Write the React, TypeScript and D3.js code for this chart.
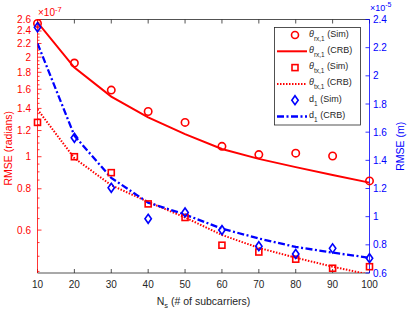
import React from "react";
import * as d3 from "d3";

const ns = [10, 20, 30, 40, 50, 60, 70, 80, 90, 100];
const thetaRxSim = [2.53, 1.92, 1.59, 1.37, 1.27, 1.075, 1.015, 1.025, 1.005, 0.845];
const thetaRxCrb = [2.55, 1.86, 1.52, 1.315, 1.17, 1.055, 0.985, 0.93, 0.88, 0.835];
const thetaTxSim = [1.27, 1.0, 0.895, 0.72, 0.655, 0.54, 0.515, 0.49, 0.46, 0.465];
const thetaTxCrb = [1.39, 0.99, 0.82, 0.73, 0.655, 0.58, 0.53, 0.495, 0.465, 0.44];
const dSim = [2.345, 1.56, 1.205, 0.985, 1.03, 0.905, 0.79, 0.735, 0.775, 0.705];
const dCrb = [2.23, 1.575, 1.275, 1.1, 1.015, 0.915, 0.845, 0.785, 0.745, 0.708];

const xTicks = [10, 20, 30, 40, 50, 60, 70, 80, 90, 100];
const leftTicks = [0.6, 0.8, 1, 1.2, 1.4, 1.6, 1.8, 2, 2.2, 2.4, 2.6];
const rightTicks = [0.6, 0.8, 1, 1.2, 1.4, 1.6, 1.8, 2, 2.2, 2.4];

const W = 407, H = 311;
const L = 37.5, R = 369.5, T = 19.5, B = 273;
const FONT = "'Liberation Sans', Arial, Helvetica, sans-serif";
const RED = "#ff0000";
const BLUE = "#0000ff";
const AX = "#262626";

export default function App() {
  const x = d3.scaleLinear().domain([10, 100]).range([L, R]);
  const yL = d3.scaleLog().domain([0.445, 2.6]).range([B, T]);
  const yR = d3.scaleLinear().domain([0.6, 2.4]).range([B, T]);

  const lineL = d3.line<number>().x((_, i) => x(ns[i])).y((v) => yL(v));
  const lineR = d3.line<number>().x((_, i) => x(ns[i])).y((v) => yR(v));

  const minorL: number[] = [];
  for (let v = 0.45; v <= 2.6001; v += 0.05) {
    const r = Math.round(v * 100) / 100;
    if (!leftTicks.some((t) => Math.abs(t - r) < 1e-6)) minorL.push(r);
  }

  const lw = 2;
  const diamond = (cx: number, cy: number) =>
    `M${cx},${cy - 4.5}L${cx + 3.2},${cy}L${cx},${cy + 4.5}L${cx - 3.2},${cy}Z`;

  const legX = 274.5, legY = 27.5, legW = 86, legH = 97.5;
  const rowY = (i: number) => 35 + i * 16.3;
  const sx0 = 277, sx1 = 307, mx = 295, tx = 309;

  return (
    <svg width={W} height={H} style={{ display: "block", position: "absolute", left: 0, top: 0 }} fontFamily={FONT}>
      <rect x={0} y={0} width={W} height={H} fill="#fff" />
      <defs>
        <clipPath id="plot">
          <rect x={L} y={T - 6} width={R - L} height={B - T + 6} />
        </clipPath>
      </defs>

      {/* top and bottom axes */}
      <line x1={L} x2={R} y1={T} y2={T} stroke={AX} strokeWidth={0.8} />
      <line x1={L} x2={R} y1={B} y2={B} stroke={AX} strokeWidth={0.8} />
      {xTicks.map((t) => (
        <g key={"xt" + t}>
          <line x1={x(t)} x2={x(t)} y1={B} y2={B - 4} stroke={AX} strokeWidth={0.8} />
          <line x1={x(t)} x2={x(t)} y1={T} y2={T + 4} stroke={AX} strokeWidth={0.8} />
          <text x={x(t)} y={288} textAnchor="middle" fontSize={10} fill={AX}>{t}</text>
        </g>
      ))}

      {/* left axis */}
      <line x1={L} x2={L} y1={T} y2={B} stroke={RED} strokeWidth={0.8} />
      {leftTicks.map((t) => (
        <g key={"yl" + t}>
          <line x1={L} x2={L + 4} y1={yL(t)} y2={yL(t)} stroke={RED} strokeWidth={0.8} />
          <text x={31} y={yL(t) + 3.5} textAnchor="end" fontSize={10} fill={RED}>{t}</text>
        </g>
      ))}
      {minorL.map((t) => (
        <line key={"ml" + t} x1={L} x2={L + 2} y1={yL(t)} y2={yL(t)} stroke={RED} strokeWidth={0.8} />
      ))}
      <text x={38} y={16} fontSize={10} fill={RED}>
        ×10<tspan dy={-4} fontSize={7.5}>-7</tspan>
      </text>
      <text transform={`translate(12,${(T + B) / 2 + 2}) rotate(-90)`} textAnchor="middle" fontSize={10.5} fill={RED}>
        RMSE (radians)
      </text>

      {/* right axis */}
      <line x1={R} x2={R} y1={T} y2={B} stroke={BLUE} strokeWidth={0.8} />
      {rightTicks.map((t) => (
        <g key={"yr" + t}>
          <line x1={R} x2={R - 4} y1={yR(t)} y2={yR(t)} stroke={BLUE} strokeWidth={0.8} />
          <text x={373} y={yR(t) + 3.5} fontSize={10} fill={BLUE}>{t}</text>
        </g>
      ))}
      <text x={370} y={11} fontSize={9} fill={BLUE}>
        ×10<tspan dy={-4} fontSize={7}>-5</tspan>
      </text>
      <text transform={`translate(404,${(T + B) / 2}) rotate(-90)`} textAnchor="middle" fontSize={10.5} fill={BLUE}>
        RMSE (m)
      </text>

      {/* x label */}
      <text x={(L + R) / 2} y={305} textAnchor="middle" fontSize={10.5} fill={AX}>
        N<tspan dy={3} fontSize={7.5}>s</tspan><tspan dy={-3}> (# of subcarriers)</tspan>
      </text>

      {/* series */}
      <g clipPath="url(#plot)">
        <path d={lineL(thetaRxCrb) || ""} fill="none" stroke={RED} strokeWidth={lw} />
        <path d={lineL(thetaTxCrb) || ""} fill="none" stroke={RED} strokeWidth={lw} strokeDasharray="1.5,1.5" />
        <path d={lineR(dCrb) || ""} fill="none" stroke={BLUE} strokeWidth={2.3} strokeDasharray="7,2.5,2,2.5" />
      </g>
      {thetaRxSim.map((v, i) => (
        <circle key={"c" + i} cx={x(ns[i])} cy={yL(v)} r={3.7} fill="none" stroke={RED} strokeWidth={1.6} />
      ))}
      {thetaTxSim.map((v, i) => (
        <rect key={"s" + i} x={x(ns[i]) - 3} y={yL(v) - 3} width={6} height={6} fill="none" stroke={RED} strokeWidth={1.6} />
      ))}
      {dSim.map((v, i) => (
        <path key={"d" + i} d={diamond(x(ns[i]), yR(v))} fill="none" stroke={BLUE} strokeWidth={1.6} />
      ))}

      {/* legend */}
      <rect x={legX} y={legY} width={legW} height={legH} fill="#fff" stroke={AX} strokeWidth={0.8} />
      <circle cx={mx} cy={rowY(0)} r={3.5} fill="none" stroke={RED} strokeWidth={1.6} />
      <line x1={sx0} x2={sx1} y1={rowY(1)} y2={rowY(1)} stroke={RED} strokeWidth={lw} />
      <rect x={mx - 3} y={rowY(2) - 3} width={6} height={6} fill="none" stroke={RED} strokeWidth={1.6} />
      <line x1={sx0} x2={sx1} y1={rowY(3)} y2={rowY(3)} stroke={RED} strokeWidth={lw} strokeDasharray="1.5,1.5" />
      <path d={diamond(mx, rowY(4))} fill="none" stroke={BLUE} strokeWidth={1.6} />
      <line x1={sx0} x2={sx1} y1={rowY(5)} y2={rowY(5)} stroke={BLUE} strokeWidth={2.3} strokeDasharray="7,2.5,2,2.5" />
      {[
        ["θ", "rx,1", "(Sim)"],
        ["θ", "rx,1", "(CRB)"],
        ["θ", "tx,1", "(Sim)"],
        ["θ", "tx,1", "(CRB)"],
        ["d", "1", "(Sim)"],
        ["d", "1", "(CRB)"],
      ].map(([a, sub, b], i) => (
        <text key={"lt" + i} x={tx} y={rowY(i) + 1.5} fontSize={9} fill={AX}>
          <tspan fontStyle={a === "θ" ? "italic" : "normal"}>{a}</tspan>
          <tspan dy={4} fontSize={6.5}>{sub}</tspan>
          <tspan dy={-4} dx={2.5}>{b}</tspan>
        </text>
      ))}
    </svg>
  );
}
